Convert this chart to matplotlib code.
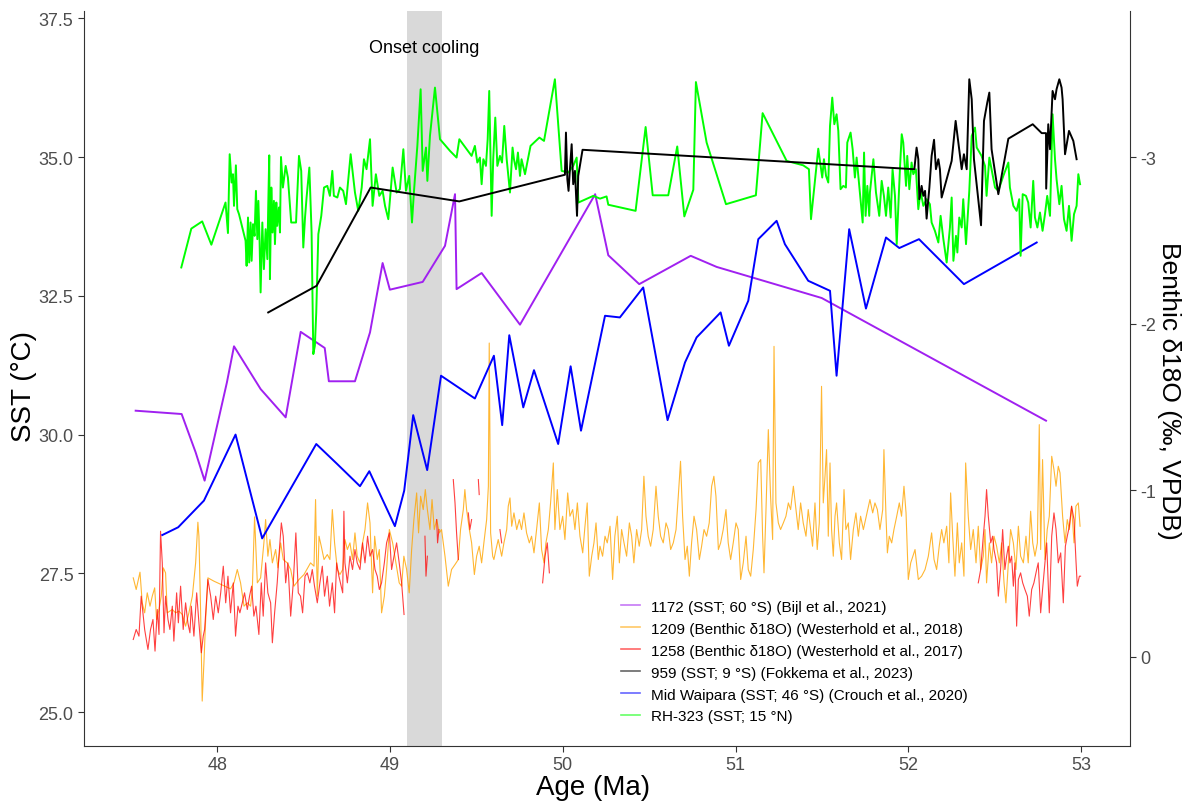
import numpy as np
import matplotlib.pyplot as plt
from matplotlib.lines import Line2D

plt.rcParams['font.family'] = ['Liberation Sans', 'DejaVu Sans']

nan = float('nan')

# ODP 1172 SST (Bijl et al., 2021)
site1172_age = [47.528, 47.794, 47.875, 47.927, 48.056, 48.097, 48.251, 48.396, 48.483, 48.622,
                48.646, 48.797, 48.884, 48.957, 48.999, 49.189, 49.318, 49.376, 49.385, 49.530,
                49.752, 50.187, 50.263, 50.442, 50.740, 50.890, 51.498, 52.796]
site1172_sst = [30.43, 30.37, 29.68, 29.17, 30.94, 31.59, 30.82, 30.31, 31.85, 31.56,
                30.96, 30.96, 31.84, 33.09, 32.61, 32.75, 33.40, 34.33, 32.62, 32.91,
                31.98, 34.33, 33.23, 32.71, 33.22, 33.02, 32.46, 30.25]

# Mid Waipara SST (Crouch et al., 2020)
waipara_age = [47.682, 47.774, 47.923, 48.106, 48.260, 48.573, 48.694, 48.826, 48.880, 49.028,
               49.082, 49.134, 49.215, 49.295, 49.491, 49.601, 49.649, 49.690, 49.771, 49.833,
               49.973, 50.045, 50.105, 50.244, 50.330, 50.465, 50.606, 50.707, 50.774, 50.913,
               50.961, 51.073, 51.131, 51.237, 51.285, 51.420, 51.546, 51.584, 51.657, 51.754,
               51.870, 51.947, 52.061, 52.321, 52.742]
waipara_sst = [28.19, 28.33, 28.81, 30.00, 28.13, 29.83, 29.47, 29.07, 29.34, 28.35,
               28.99, 30.35, 29.36, 31.06, 30.65, 31.42, 30.17, 31.79, 30.49, 31.16,
               29.83, 31.23, 30.07, 32.14, 32.11, 32.65, 30.26, 31.30, 31.75, 32.20,
               31.60, 32.41, 33.52, 33.85, 33.43, 32.77, 32.59, 31.06, 33.70, 32.27,
               33.55, 33.36, 33.52, 32.71, 33.46]

# ODP 959 SST (Fokkema et al., 2023)
site959_age = [48.295, 48.575, 48.888, 49.401, 50.012, 50.018, 50.026, 50.033, 50.041, 50.051,
               50.060, 50.070, 50.082, 50.089, 50.114, 52.034, 52.047, 52.057, 52.063, 52.076,
               52.086, 52.096, 52.105, 52.121, 52.134, 52.148, 52.159, 52.173, 52.182, 52.192,
               52.250, 52.273, 52.308, 52.321, 52.337, 52.352, 52.366, 52.379, 52.420, 52.437,
               52.456, 52.468, 52.481, 52.520, 52.578, 52.719, 52.771, 52.796, 52.797, 52.809,
               52.819, 52.834, 52.848, 52.857, 52.873, 52.886, 52.892, 52.906, 52.929, 52.954,
               52.973]
site959_sst = [32.20, 32.68, 34.45, 34.20, 34.68, 35.44, 34.60, 34.39, 34.78, 35.23,
               34.51, 34.75, 33.94, 34.66, 35.13, 34.78, 35.17, 34.96, 34.24, 34.48,
               34.30, 34.39, 33.89, 34.45, 35.02, 35.31, 34.78, 34.96, 34.78, 34.27,
               34.93, 35.65, 34.78, 35.05, 34.78, 36.40, 36.04, 34.96, 33.77, 35.65,
               35.98, 36.16, 35.14, 34.33, 35.33, 35.59, 35.43, 35.43, 34.43, 35.59,
               35.14, 36.19, 36.04, 36.22, 36.40, 36.25, 36.04, 35.05, 35.47, 35.29,
               34.96]

# RH-323 SST
rh323_age = [47.792, 47.850, 47.913, 47.966, 48.048, 48.062, 48.072, 48.083, 48.091, 48.097,
             48.108, 48.116, 48.126, 48.164, 48.170, 48.178, 48.185, 48.193, 48.199, 48.207,
             48.216, 48.224, 48.232, 48.238, 48.245, 48.251, 48.261, 48.270, 48.280, 48.290,
             48.295, 48.301, 48.305, 48.313, 48.320, 48.328, 48.334, 48.342, 48.347, 48.357,
             48.363, 48.369, 48.380, 48.396, 48.409, 48.428, 48.456, 48.473, 48.486, 48.498,
             48.508, 48.517, 48.533, 48.546, 48.556, 48.565, 48.573, 48.585, 48.602, 48.618,
             48.637, 48.652, 48.666, 48.675, 48.695,
             48.710, 48.729, 48.745, 48.772, 48.797, 48.816, 48.836, 48.849, 48.864, 48.884,
             48.899, 48.918, 48.938, 48.957, 48.971, 48.990, 49.015, 49.038, 49.057, 49.077,
             49.092, 49.111, 49.127, 49.138, 49.158, 49.177, 49.189, 49.208, 49.216, 49.231,
             49.260, 49.289, 49.347, 49.385, 49.401, 49.472, 49.491, 49.505, 49.520, 49.530,
             49.540, 49.555, 49.565, 49.574, 49.588, 49.597, 49.609, 49.621, 49.636, 49.648,
             49.661, 49.675, 49.694, 49.709, 49.717, 49.729, 49.740, 49.752, 49.761, 49.781,
             49.813, 49.864, 49.891, 49.954, 49.993, 50.032, 50.060, 50.080, 50.090, 50.176,
             50.215, 50.253, 50.263, 50.421, 50.479, 50.520, 50.610, 50.662, 50.703, 50.755,
             50.770, 50.832, 50.944, 51.117, 51.156, 51.295, 51.391, 51.424, 51.436, 51.478,
             51.501, 51.511, 51.523, 51.536, 51.546, 51.559, 51.571, 51.584, 51.594, 51.607,
             51.623, 51.638, 51.646, 51.665, 51.677, 51.690, 51.700, 51.715, 51.735, 51.743,
             51.752, 51.762, 51.773,
             51.777, 51.797, 51.812, 51.831, 51.845, 51.858, 51.870, 51.883, 51.897, 51.908,
             51.922, 51.932, 51.951, 51.961, 51.970, 51.986, 51.993, 52.005, 52.018, 52.028,
             52.043, 52.057, 52.070, 52.086, 52.105, 52.124, 52.134, 52.153, 52.173, 52.186,
             52.202, 52.221, 52.240, 52.250, 52.260, 52.275, 52.283, 52.294, 52.308, 52.317,
             52.333, 52.352, 52.366, 52.385, 52.395, 52.423, 52.443, 52.452, 52.468, 52.481,
             52.501, 52.520, 52.549, 52.578, 52.587, 52.607, 52.626, 52.641, 52.649, 52.661,
             52.680, 52.693, 52.707, 52.722, 52.732, 52.746, 52.761, 52.776, 52.790, 52.803,
             52.819, 52.834, 52.848, 52.857, 52.873, 52.886, 52.900, 52.915, 52.929, 52.944,
             52.958, 52.973, 52.983, 52.993]
rh323_sst = [33.01, 33.71, 33.84, 33.42, 34.18, 33.63, 35.05, 34.54, 34.69, 34.12,
             34.85, 34.06, 33.97, 33.49, 33.04, 33.91, 33.10, 33.82, 33.13, 33.79,
             33.58, 34.39, 33.52, 34.21, 33.49, 32.56, 33.82, 32.98, 33.70, 33.16,
             34.09, 35.03, 32.80, 34.45, 33.64, 34.21, 33.43, 34.18, 33.76, 34.09,
             33.64, 35.00, 34.45, 34.84, 34.63, 33.82, 33.82, 35.02, 34.75, 33.37,
             33.91, 34.27, 34.81, 33.64, 31.45, 31.60, 32.20, 33.61, 33.94, 34.45,
             34.48, 34.30, 34.75, 34.30, 34.27,
             34.45, 34.39, 34.15, 35.05, 34.36, 34.03, 34.45, 34.96, 34.78, 35.32,
             34.12, 34.69, 34.30, 34.39, 34.12, 33.88, 34.81, 34.36, 34.42, 35.14,
             34.39, 34.66, 33.82, 34.36, 35.20, 36.22, 34.75, 35.17, 34.57, 35.38,
             36.25, 35.32, 35.11, 34.99, 35.32, 35.02, 35.20, 34.90, 34.99, 34.51,
             34.96, 34.84, 35.32, 36.19, 33.94, 34.96, 35.71, 34.84, 35.02, 34.90,
             35.56, 34.96, 34.36, 35.17, 34.96, 34.78, 35.08, 34.66, 34.96, 34.69,
             35.20, 35.35, 35.29, 36.40, 34.75, 34.72, 34.84, 34.99, 34.18, 34.30,
             34.25, 34.29, 34.14, 34.03, 35.54, 34.31, 34.31, 35.19, 33.93, 34.41,
             36.35, 35.26, 34.15, 34.31, 35.79, 34.93, 34.85, 34.78, 33.88, 35.15,
             34.63, 34.96, 34.66, 34.54, 35.56, 36.07, 35.59, 35.77, 35.47, 34.42,
             34.48, 34.45, 35.26, 35.44, 35.14, 34.63, 34.99, 34.48, 33.82, 35.08,
             33.94, 34.48, 33.94,
             34.36, 34.96, 34.36, 33.94, 34.57, 34.30, 33.94, 34.45, 33.91, 34.78,
             34.30, 33.43, 34.81, 35.41, 35.26, 34.48, 35.02, 34.42, 34.90, 34.69,
             34.78, 34.06, 34.39, 34.12, 34.24, 34.15, 33.82, 33.67, 33.46, 33.94,
             33.52, 33.10, 33.73, 34.27, 33.13, 33.58, 33.28, 33.91, 33.73, 34.24,
             33.43, 34.39, 35.38, 35.53, 35.17, 35.02, 34.84, 34.30, 34.99, 34.78,
             34.45, 34.39, 34.66, 34.90, 34.45, 34.12, 34.03, 34.24, 33.22, 34.33,
             34.30, 34.18, 33.73, 34.57, 33.91, 33.73, 34.00, 33.67, 33.97, 34.30,
             33.94, 35.77, 34.96, 34.60, 34.15, 34.48, 33.88, 33.67, 34.12, 33.49,
             33.97, 34.12, 34.69, 34.51]

# ODP 1209 benthic d18O (Westerhold et al., 2018)
site1209_age = [47.514, 47.531, 47.553, 47.566, 47.580, 47.595, 47.611, 47.624, 47.638, 47.649,
                47.663, 47.676, 47.688, 47.701, 47.711, 47.726, 47.740, 47.759, 47.778, 47.798,
                47.817, 47.836, 47.856, 47.875, 47.888, 47.894, 47.904, 47.913, 47.923, 47.933,
                47.946, 47.981, 48.077, 48.097, 48.116, 48.135, 48.155, 48.174, 48.193, 48.203,
                48.216, 48.232, 48.251, 48.270, 48.280, 48.293, 48.305, 48.319, 48.338, 48.351,
                48.367, 48.382, 48.405, 48.425, 48.444, 48.473, 48.502, 48.540, 48.560, 48.569,
                48.579, 48.589, 48.602, 48.618, 48.637, 48.652, 48.666, 48.679, 48.695,
                48.710, 48.726, 48.739, 48.753, 48.768, 48.783, 48.797, 48.810, 48.826, 48.841,
                48.855, 48.870, 48.884, 48.899, 48.911, 48.926, 48.938, 48.951, 48.967, 48.980,
                48.996, 49.015, 49.034, 49.053, 49.067, 49.080, 49.096, 49.111, 49.125, 49.138,
                49.154, 49.165, 49.177, 49.192, 49.204, 49.216, 49.231, 49.243, 49.256, 49.270,
                49.285, 49.298, 49.318, 49.337, 49.356, 49.376, 49.395, 49.408, 49.424, 49.433,
                49.443, 49.459, 49.472, 49.488, 49.501, 49.516, 49.530, 49.543, 49.559, 49.569,
                49.574, 49.582, 49.594, 49.601, 49.613, 49.626, 49.646, 49.659, 49.675, 49.684,
                49.694, 49.704, 49.717, 49.733, 49.748, 49.761, 49.775, 49.790, 49.806, 49.819,
                49.833, 49.848, 49.864, 49.877, 49.891, 49.902, 49.916, 49.929, 49.945, 49.954,
                49.968, 49.983, 49.999, 50.012, 50.028, 50.041, 50.057, 50.070, 50.084, 50.099,
                50.115, 50.128, 50.141, 50.153, 50.167, 50.180, 50.192, 50.205,
                50.215, 50.230, 50.244, 50.257, 50.273, 50.288, 50.301, 50.315, 50.327, 50.340,
                50.354, 50.369, 50.385, 50.398, 50.411, 50.427, 50.442, 50.456, 50.469, 50.481,
                50.494, 50.508, 50.523, 50.539, 50.552, 50.566, 50.581, 50.597, 50.610, 50.624,
                50.639, 50.655, 50.668, 50.681, 50.693, 50.707, 50.720, 50.732, 50.745, 50.759,
                50.774, 50.790, 50.803, 50.817, 50.832, 50.847, 50.861, 50.874, 50.886, 50.900,
                50.913, 50.928, 50.944, 50.957, 50.971, 50.986, 51.002, 51.015, 51.029, 51.044,
                51.060, 51.073, 51.087, 51.102, 51.118, 51.131, 51.145, 51.156, 51.164, 51.175,
                51.189, 51.202, 51.214, 51.222, 51.233, 51.247, 51.260, 51.276, 51.291, 51.305,
                51.318, 51.334, 51.349, 51.362, 51.376, 51.391, 51.407, 51.420, 51.434, 51.445,
                51.459, 51.472, 51.484, 51.497, 51.507, 51.517, 51.526, 51.536, 51.546, 51.555,
                51.565, 51.575, 51.584, 51.600, 51.613, 51.627, 51.638, 51.652, 51.665, 51.681,
                51.696, 51.710, 51.723, 51.739,
                51.777, 51.793, 51.806, 51.820, 51.835, 51.851, 51.858, 51.870, 51.878, 51.889,
                51.903, 51.916, 51.932, 51.947, 51.960, 51.974, 51.986, 51.999, 52.013, 52.038,
                52.057, 52.076, 52.096, 52.115, 52.134, 52.148, 52.163, 52.178, 52.192, 52.205,
                52.221, 52.234, 52.244, 52.256, 52.269, 52.283, 52.294, 52.308, 52.321, 52.331,
                52.346, 52.360, 52.375, 52.391, 52.404, 52.418, 52.433, 52.443, 52.452, 52.468,
                52.481, 52.495, 52.510, 52.526, 52.539, 52.553, 52.564, 52.578, 52.591, 52.607,
                52.622, 52.636, 52.649, 52.665, 52.680, 52.693, 52.707, 52.719, 52.732, 52.746,
                52.757, 52.765, 52.776, 52.790, 52.803, 52.815, 52.829, 52.842, 52.854, 52.867,
                52.877, 52.892, 52.906, 52.919, 52.931, 52.944, 52.958, 52.969, 52.983, 52.993]
site1209_d18o = [-0.473, -0.403, -0.507, -0.323, -0.263, -0.383, -0.303, -0.363, -0.413, -0.223,
                 -0.283, -0.363, -0.533, -0.503, -0.263, -0.273, -0.283, -0.263, -0.273, -0.253,
                 -0.183, -0.263, -0.363, -0.563, -0.807, -0.723, -0.263, 0.267, 0.037, -0.223,
                 -0.473, -0.453, -0.407, -0.443, -0.523, -0.443, -0.303, -0.323, -0.303, -0.403,
                 -0.839, -0.443, -0.473, -0.683, -0.823, -0.603, -0.703, -0.563, -0.643, -0.533,
                 -0.683, -0.583, -0.563, -0.523, -0.423, -0.463, -0.493, -0.563, -0.543, -0.943,
                 -0.363, -0.723, -0.663, -0.583, -0.613, -0.583, -0.883, -0.683, -0.523,
                 -0.493, -0.523, -0.703, -0.643, -0.683, -0.583, -0.743, -0.603, -0.563, -0.683,
                 -0.763, -0.923, -0.803, -0.383, -0.723, -0.583, -0.643, -0.263, -0.363, -0.523,
                 -0.763, -0.683, -0.563, -0.443, -0.423, -0.603, -0.523, -0.383, -0.643, -0.823,
                 -0.983, -0.743, -0.963, -0.883, -1.003, -0.883, -0.763, -0.943, -0.763, -0.823,
                 -0.743, -0.763, -0.603, -0.423, -0.523, -0.553, -0.583, -0.763, -0.883, -1.003,
                 -0.883, -0.763, -0.683, -0.493, -0.603, -0.663, -0.563, -0.683, -0.823, -1.023,
                 -1.883, -0.743, -0.603, -0.583, -0.643, -0.703, -0.603, -0.683, -0.763, -0.903,
                 -0.953, -0.783, -0.863, -0.763, -0.823, -0.763, -0.863, -0.743, -0.683, -0.723,
                 -0.623, -0.763, -0.923, -0.643, -0.563, -0.683, -0.763, -0.923, -1.163, -0.763,
                 -1.003, -0.763, -0.843, -0.703, -0.983, -0.843, -0.883, -0.763, -0.923, -0.723,
                 -0.623, -0.783, -0.923, -0.483, -0.603, -0.683, -0.803, -0.583,
                 -0.663, -0.603, -0.723, -0.683, -0.783, -0.463, -0.723, -0.843, -0.563, -0.763,
                 -0.683, -0.603, -0.803, -0.723, -0.563, -0.763, -0.663, -0.763, -1.083, -0.843,
                 -0.723, -0.663, -0.763, -1.023, -0.843, -0.723, -0.683, -0.803, -0.763, -0.643,
                 -0.683, -0.763, -0.963, -1.173, -0.843, -0.583, -0.663, -0.483, -0.683, -0.843,
                 -0.763, -0.583, -0.663, -0.763, -0.723, -0.803, -1.023, -1.083, -0.963, -0.643,
                 -0.683, -0.763, -0.883, -0.683, -0.583, -0.683, -0.803, -0.763, -0.463, -0.563,
                 -0.723, -0.523, -0.483, -0.643, -0.883, -1.163, -1.183, -0.723, -0.503, -0.863,
                 -1.363, -0.963, -0.703, -1.863, -0.923, -0.803, -0.763, -0.803, -0.843, -0.923,
                 -0.883, -1.023, -0.883, -0.763, -0.923, -0.803, -0.723, -0.883, -0.763, -0.663,
                 -0.923, -0.643, -0.803, -1.623, -0.923, -1.083, -1.243, -0.723, -1.163, -0.763,
                 -0.603, -0.843, -0.923, -0.683, -0.583, -1.003, -0.763, -0.803, -0.583, -0.763,
                 -0.863, -0.723, -0.843, -0.763,
                 -0.943, -0.863, -0.923, -0.883, -0.763, -0.883, -1.243, -0.843, -0.623, -0.723,
                 -0.683, -0.763, -0.843, -0.923, -0.843, -1.023, -0.863, -0.463, -0.563, -0.643,
                 -0.463, -0.483, -0.523, -0.603, -0.743, -0.583, -0.523, -0.663, -0.763, -0.683,
                 -0.783, -0.563, -0.983, -0.723, -0.483, -0.803, -0.563, -0.683, -0.483, -1.163,
                 -0.843, -0.643, -0.763, -0.563, -0.783, -0.523, -0.603, -0.763, -0.443, -0.683,
                 -0.563, -0.723, -0.663, -0.563, -0.683, -0.443, -0.323, -0.563, -0.763, -0.683,
                 -0.523, -0.783, -0.603, -0.563, -0.723, -0.563, -0.873, -0.683, -0.603, -0.683,
                 -1.393, -0.643, -1.183, -0.583, -0.763, -0.843, -1.203, -1.123, -1.023, -1.143,
                 -1.103, -0.843, -0.683, -0.823, -0.763, -0.903, -0.683, -0.903, -0.923, -0.783]

# ODP 1258 benthic d18O (Westerhold et al., 2017); nan marks gaps in the record
site1258_age = [47.514, 47.531, 47.547, 47.560, 47.580, 47.599, 47.614, 47.628, 47.640, 47.653,
                47.663, 47.672, 47.682, 47.692, 47.701, 47.715, 47.726, 47.740, 47.749, 47.765,
                47.775, 47.788, 47.803, 47.817, 47.830, 47.842, 47.850, 47.865, 47.881, 47.894,
                47.908, 47.919, 47.927, 47.946, 47.962, 47.977, 47.991, 48.006, 48.020, 48.035,
                48.049, 48.062, 48.077, 48.093, 48.106, 48.120, 48.131, 48.145, 48.158, 48.174,
                48.187, 48.199, 48.212, 48.224, 48.241, 48.255, 48.266, 48.280, 48.293, 48.309,
                48.319, 48.332, 48.347, 48.357, 48.371, 48.382, 48.396, 48.409, 48.425, 48.440,
                48.455, 48.469, 48.482, 48.494, 48.508, 48.521, 48.536, 48.550, 48.563, 48.579,
                48.594, 48.608, 48.621, 48.637, 48.650, 48.666, 48.679, 48.691, 48.704, 48.726,
                48.733, 48.739, 48.753, 48.768, 48.783, 48.797, 48.810, 48.826, 48.841, 48.855,
                48.870, 48.884, 48.899, 48.913, 48.926, 48.938, 48.951, 48.967, 48.980, 48.996,
                49.009, 49.023, 49.038, 49.053, 49.067, 49.081, nan,
                49.202, 49.208, 49.216, nan,
                49.270, 49.275, 49.283, nan,
                49.366, 49.376, 49.385, 49.395, nan,
                49.453, 49.462, 49.472, nan,
                49.511, 49.516, nan,
                49.636, 49.646, nan,
                49.883, 49.897, 49.910, 49.922, nan,
                52.404, 52.418, 52.433, 52.443, 52.452, 52.462, 52.476, 52.487, 52.495, 52.510,
                52.520, 52.533, 52.545, 52.558, 52.568, 52.578, 52.587, 52.597, 52.607, 52.616,
                52.626, 52.636, 52.649, 52.661, 52.674, 52.688, 52.699, 52.713, 52.726, 52.742,
                52.751, 52.765, 52.776, 52.790, 52.800, 52.815, 52.829, 52.842, 52.854, 52.867,
                52.881, 52.896, 52.908, 52.919, 52.931, 52.944, 52.958, 52.969, 52.977, 52.989,
                52.996]
site1258_d18o = [-0.103, -0.163, -0.123, -0.363, -0.163, -0.043, -0.163, -0.223, -0.033, -0.283,
                 -0.133, -0.753, -0.563, -0.143, -0.363, -0.223, -0.163, -0.303, -0.093, -0.383,
                 -0.203, -0.423, -0.163, -0.323, -0.203, -0.143, -0.303, -0.123, -0.383, -0.203,
                 -0.023, -0.123, -0.163, -0.463, -0.363, -0.223, -0.363, -0.263, -0.383, -0.543,
                 -0.323, -0.483, -0.263, -0.443, -0.123, -0.303, -0.263, -0.323, -0.383, -0.283,
                 -0.363, -0.423, -0.243, -0.303, -0.133, -0.443, -0.243, -0.563, -0.383, -0.323,
                 -0.083, -0.263, -0.443, -0.603, -0.803, -0.723, -0.443, -0.563, -0.243, -0.443,
                 -0.743, -0.383, -0.363, -0.263, -0.483, -0.503, -0.443, -0.523, -0.423, -0.323,
                 -0.443, -0.543, -0.363, -0.483, -0.303, -0.443, -0.263, -0.563, -0.483, -0.383,
                 -0.873, -0.563, -0.443, -0.603, -0.523, -0.643, -0.563, -0.523, -0.683, -0.563,
                 -0.723, -0.603, -0.643, -0.523, -0.483, -0.403, -0.443, -0.563, -0.683, -0.743,
                 -0.523, -0.603, -0.683, -0.563, -0.443, -0.253, nan,
                 -0.723, -0.483, -0.603, nan,
                 -0.823, -0.683, -0.763, nan,
                 -1.063, -0.923, -0.743, -0.583, nan,
                 -0.863, -0.763, -0.823, nan,
                 -1.063, -0.973, nan,
                 -0.763, -0.683, nan,
                 -0.443, -0.603, -0.683, -0.503, nan,
                 -0.443, -0.523, -0.723, -0.843, -1.003, -0.843, -0.683, -0.723, -0.643, -0.563,
                 -0.363, -0.523, -0.763, -0.523, -0.603, -0.663, -0.563, -0.603, -0.423, -0.563,
                 -0.183, -0.463, -0.503, -0.443, -0.403, -0.363, -0.243, -0.403, -0.443, -0.523,
                 -0.563, -0.263, -0.403, -0.563, -0.683, -0.263, -0.723, -0.863, -0.763, -0.563,
                 -0.623, -0.323, -0.663, -0.723, -0.783, -0.903, -0.823, -0.583, -0.423, -0.483,
                 -0.483]

legend_labels = ['1172 (SST; 60 °S) (Bijl et al., 2021)',
                 '1209 (Benthic δ18O) (Westerhold et al., 2018)',
                 '1258 (Benthic δ18O) (Westerhold et al., 2017)',
                 '959 (SST; 9 °S) (Fokkema et al., 2023)',
                 'Mid Waipara (SST; 46 °S) (Crouch et al., 2020)',
                 'RH-323 (SST; 15 °N)']
colors = ['#A020F0', '#FFA500', '#FF0000', '#000000', '#0000FF', '#00FF00']

sst_lim = (24.39, 37.63)
age_lim = (47.229, 53.282)

fig = plt.figure(figsize=(11.87, 8.03), dpi=100)
ax = fig.add_axes([84 / 1187, 56 / 803, 1046 / 1187, 735 / 803])
ax2 = ax.twinx()

# benthic d18O on the right axis (SST = 26 - 3 * d18O), drawn underneath the SST curves
ax.set_zorder(ax2.get_zorder() + 1)
ax.patch.set_visible(False)
ax2.axvspan(49.1, 49.3, color='#D9D9D9', lw=0, zorder=0)
ax2.plot(site1209_age, site1209_d18o, color=colors[1], lw=0.8, alpha=0.8)
ax2.plot(site1258_age, site1258_d18o, color=colors[2], lw=0.8, alpha=0.75)
ax2.set_ylim((26 - sst_lim[0]) / 3, (26 - sst_lim[1]) / 3)

ax.plot(site1172_age, site1172_sst, color=colors[0], lw=1.4)
ax.plot(waipara_age, waipara_sst, color=colors[4], lw=1.4)
ax.plot(rh323_age, rh323_sst, color=colors[5], lw=1.4)
ax.plot(site959_age, site959_sst, color=colors[3], lw=1.4)

ax.text(49.2, 36.98, 'Onset cooling', fontsize=13, ha='center', va='center')

ax.set_xlim(*age_lim)
ax.set_ylim(*sst_lim)
ax.set_xticks([48, 49, 50, 51, 52, 53])
ax.set_yticks([25, 27.5, 30, 32.5, 35, 37.5])
ax.set_yticklabels(['25.0', '27.5', '30.0', '32.5', '35.0', '37.5'])
ax2.set_yticks([-3, -2, -1, 0])
ax2.set_yticklabels(['-3', '-2', '-1', '0'])

for a in (ax, ax2):
    a.tick_params(labelsize=13, labelcolor='#4D4D4D', color='#333333', length=4, width=0.8)
    for s in a.spines.values():
        s.set_color('#333333')
        s.set_linewidth(0.8)
ax.spines['top'].set_visible(False)
ax.spines['right'].set_visible(False)
ax2.spines['top'].set_visible(False)
ax2.spines['left'].set_visible(False)
ax2.spines['bottom'].set_visible(False)

ax.set_xlabel('Age (Ma)', fontsize=20, va='center')
ax.xaxis.set_label_coords(0.487, -0.056)
ax.set_ylabel('SST (°C)', fontsize=20, va='center')
ax.yaxis.set_label_coords(-0.0574, 0.49)
ax2.set_ylabel('Benthic δ18O (‰, VPDB)', fontsize=19, rotation=-90, va='center')
ax2.yaxis.set_label_coords(1.037, 0.485)

handles = [Line2D([], [], color=c, lw=1.2, alpha=0.6) for c in colors]
ax.legend(handles, legend_labels, loc='upper left', bbox_to_anchor=(0.513, 0.199),
          frameon=False, fontsize=11, handlelength=1.3, handletextpad=0.7,
          labelspacing=0.52, borderpad=0, borderaxespad=0)

fig.savefig('out.png', dpi=100)
